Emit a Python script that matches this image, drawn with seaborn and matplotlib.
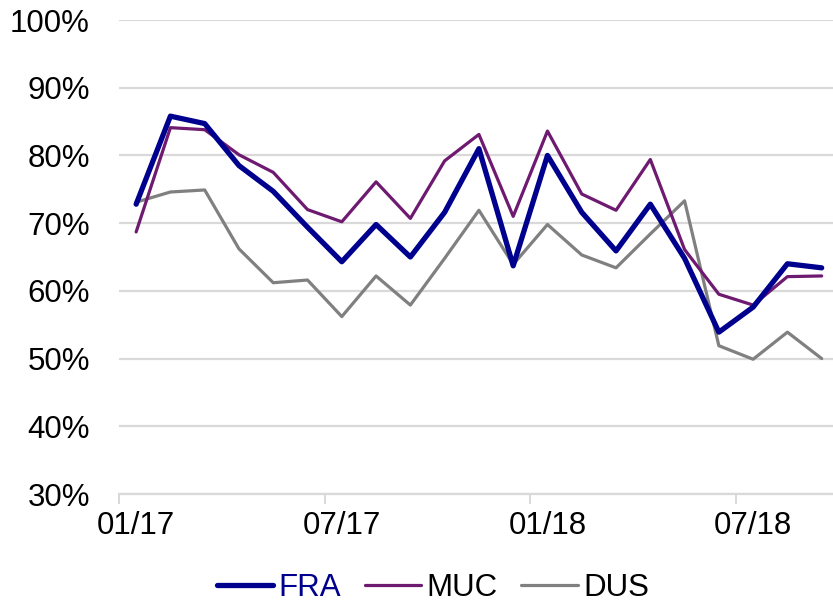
import numpy as np
import pandas as pd
import matplotlib
matplotlib.use("Agg")
import matplotlib.pyplot as plt
import seaborn as sns

months = ["01/17", "02/17", "03/17", "04/17", "05/17", "06/17", "07/17",
          "08/17", "09/17", "10/17", "11/17", "12/17", "01/18", "02/18",
          "03/18", "04/18", "05/18", "06/18", "07/18", "08/18", "09/18"]
fra = [72.8, 85.8, 84.7, 78.5, 74.7, 69.4, 64.3, 69.8, 65.0, 71.6, 81.0,
       63.7, 80.0, 71.6, 65.9, 72.8, 64.8, 53.9, 57.6, 64.0, 63.4]
muc = [68.7, 84.1, 83.8, 80.1, 77.5, 72.0, 70.2, 76.1, 70.7, 79.2, 83.1,
       71.0, 83.6, 74.3, 71.9, 79.4, 66.1, 59.5, 57.9, 62.1, 62.2]
dus = [73.1, 74.6, 74.9, 66.2, 61.2, 61.6, 56.2, 62.2, 57.9, 64.8, 71.9,
       63.9, 69.8, 65.3, 63.4, 68.4, 73.3, 51.9, 49.9, 53.9, 50.0]
tick_labels = ["01/17", "07/17", "01/18", "07/18"]
y_ticks = [30, 40, 50, 60, 70, 80, 90, 100]

sns.set_theme(style="white")
plt.rcParams["font.family"] = ["Liberation Sans", "DejaVu Sans"]
plt.rcParams["text.color"] = "black"

FS = 22.5

fig = plt.figure(figsize=(8.33, 6.05), dpi=100)
ax = fig.add_axes([119 / 833, (605 - 494) / 605, 1 - 119 / 833, (494 - 20) / 605])

x = np.arange(len(months))
df = pd.DataFrame({"x": x, "FRA": fra, "MUC": muc, "DUS": dus})

series = [("DUS", "#808080", 2.3), ("MUC", "#6E1A70", 2.3), ("FRA", "#00008E", 3.8)]
handles = {}
for name, color, lw in series:
    sns.lineplot(data=df, x="x", y=name, ax=ax, color=color, linewidth=lw,
                 label=name, legend=False)
    handles[name] = ax.lines[-1]

ax.set_xlim(-0.5, 20.33)
ax.set_ylim(30, 100)
ax.set_yticks(y_ticks)
ax.set_yticklabels([f"{v}%" for v in y_ticks])
ax.yaxis.grid(True, color="#D9D9D9", linewidth=1.6)
ax.set_axisbelow(True)

label_pos = [months.index(t) for t in tick_labels]
ax.set_xticks(label_pos)
ax.set_xticklabels(tick_labels)
ax.set_xticks([p - 0.5 for p in label_pos], minor=True)
ax.tick_params(axis="x", which="major", length=0, pad=12, labelsize=FS, colors="black")
ax.tick_params(axis="x", which="minor", length=7, width=1.4, color="#D9D9D9", direction="out", bottom=True)
ax.tick_params(axis="y", length=0, pad=21, labelsize=FS, colors="black")
ax.set_xlabel("")
ax.set_ylabel("")

for s in ["top", "right", "left"]:
    ax.spines[s].set_visible(False)
ax.spines["bottom"].set_color("#D9D9D9")
ax.spines["bottom"].set_linewidth(1.6)

order = ["FRA", "MUC", "DUS"]
leg = fig.legend([handles[n] for n in order], order, loc="center",
                 bbox_to_anchor=(433 / 833, (605 - 588) / 605), ncol=3,
                 frameon=False, fontsize=FS, handlelength=1.8,
                 handletextpad=0.18, columnspacing=0.75,
                 borderpad=0.1, borderaxespad=0.1)
for t in leg.get_texts():
    t.set_color("black")
leg.get_texts()[0].set_color("#00008E")

fig.savefig("out.png", dpi=100)
